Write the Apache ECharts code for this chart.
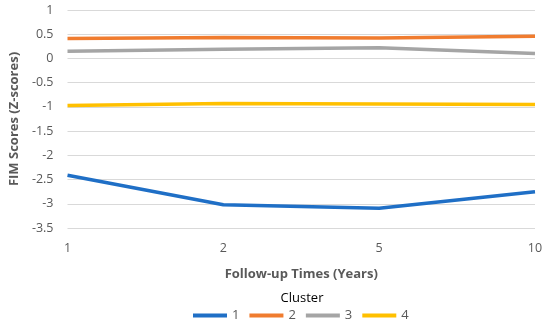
<!DOCTYPE html>
<html><head><meta charset="utf-8">
<script src="https://cdn.jsdelivr.net/npm/echarts@6/dist/echarts.min.js"></script>
<style>html,body{margin:0;padding:0;background:#fff}#c{width:550px;height:328px}</style>
</head><body><div id="c"></div>
<script>
var categories = ['1', '2', '5', '10'];
var cluster1 = [-2.41, -3.02, -3.09, -2.75];
var cluster2 = [0.41, 0.43, 0.42, 0.46];
var cluster3 = [0.15, 0.19, 0.22, 0.10];
var cluster4 = [-0.97, -0.93, -0.94, -0.95];
var seriesNames = ['1', '2', '3', '4'];
var colors = ['#1F6FC6', '#F07C2F', '#A5A5A5', '#FFC000'];
var allData = [cluster1, cluster2, cluster3, cluster4];

var font = 'Open Sans';
var chart = echarts.init(document.getElementById('c'));
chart.setOption({
  animation: false,
  color: colors,
  title: {
    text: 'Cluster', left: 297, top: 287, textAlign: 'center',
    textStyle: { fontFamily: font, fontSize: 13, fontWeight: 'normal', color: '#000' }
  },
  legend: {
    left: 188, top: 304, itemWidth: 34, itemHeight: 4, itemGap: 10, icon: 'rect',
    textStyle: { fontFamily: font, fontSize: 13, color: '#595959' },
    data: seriesNames
  },
  grid: { left: 62, right: 15, top: 10, bottom: 100 },
  xAxis: {
    type: 'category', data: categories, boundaryGap: false,
    name: 'Follow-up Times (Years)', nameLocation: 'middle', nameGap: 40,
    nameTextStyle: { fontFamily: font, fontSize: 13, fontWeight: 'bold', color: '#595959' },
    axisLine: { show: false }, axisTick: { show: false },
    axisLabel: { fontFamily: font, fontSize: 12.5, color: '#595959', margin: 14 },
    splitLine: { show: false }
  },
  yAxis: {
    type: 'value', min: -3.5, max: 1, interval: 0.5,
    name: 'FIM Scores (Z-scores)', nameLocation: 'middle', nameGap: 44,
    nameTextStyle: { fontFamily: font, fontSize: 13, fontWeight: 'bold', color: '#595959' },
    axisLine: { show: false }, axisTick: { show: false },
    axisLabel: { fontFamily: font, fontSize: 12.5, color: '#595959', margin: 14 },
    splitLine: { lineStyle: { color: '#D9D9D9', width: 1 } }
  },
  series: allData.map(function (d, i) {
    return { name: seriesNames[i], type: 'line', data: d, symbol: 'none',
      lineStyle: { width: 3.5, color: colors[i] }, itemStyle: { color: colors[i] } };
  })
});
</script></body></html>
